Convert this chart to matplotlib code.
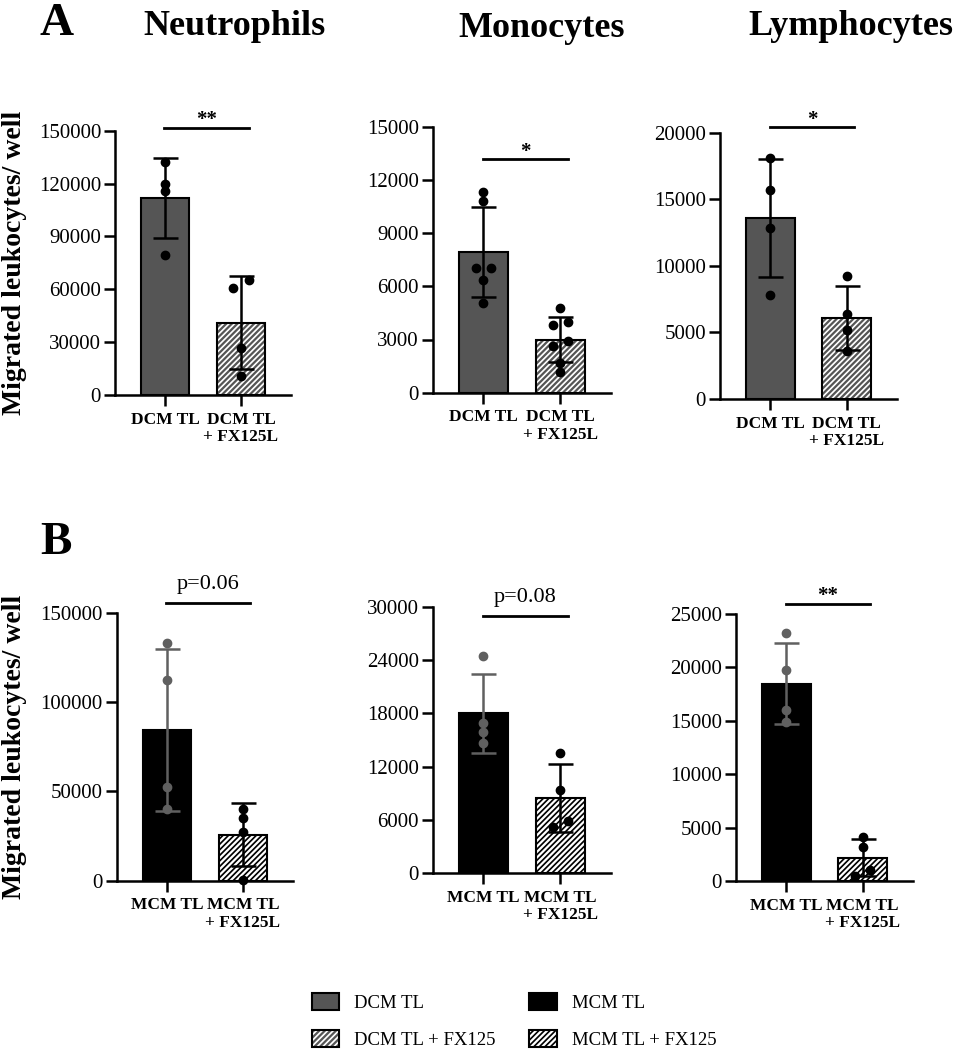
import matplotlib
matplotlib.use("Agg")
import matplotlib.pyplot as plt
import matplotlib.patches as mpatches
from matplotlib.legend_handler import HandlerTuple
import numpy as np

plt.rcParams['font.family'] = ['Liberation Serif', 'DejaVu Serif']
plt.rcParams['hatch.linewidth'] = 1.6

# individual wells (cells / well)
# panel A: DCM TL vs DCM TL + FX125L
neut_dcm = [132500, 120000, 115500, 79200]
neut_dcm_fx = [65400, 61000, 26800, 11000]
mono_dcm = [11330, 10790, 7010, 7010, 6330, 5075]
mono_dcm_fx = [4760, 3990, 3820, 2900, 2630, 1690, 1170]
lymph_dcm = [18075, 15725, 12825, 7825]
lymph_dcm_fx = [9250, 6375, 5200, 3575]

# panel B: MCM TL vs MCM TL + FX125L
neut_mcm = [133200, 112300, 52600, 39900]
neut_mcm_fx = [39900, 35300, 27400, 300]
mono_mcm = [24490, 16875, 15940, 14625]
mono_mcm_fx = [13570, 9370, 5880, 5170]
lymph_mcm = [23190, 19760, 16010, 14860]
lymph_mcm_fx = [4090, 3210, 1030, 450]

cell_types = ['Neutrophils', 'Monocytes', 'Lymphocytes']
labels_A = ['DCM TL', 'DCM TL\n+ FX125L']
labels_B = ['MCM TL', 'MCM TL\n+ FX125L']
sig_A = ['**', '*', '*']
sig_B = ['p=0.06', 'p=0.08', '**']
ymax_A = [150000, 15000, 20000]
ystep_A = [30000, 3000, 5000]
ymax_B = [150000, 30000, 25000]
ystep_B = [50000, 6000, 5000]

DCM_COL = '#555555'
MCM_COL = '#000000'
GREY = '#606060'
HATCH = '//////'

W, H = 957, 1050
fig = plt.figure(figsize=(W / 100, H / 100), dpi=100)


def add_ax(l, t, r, b):
    return fig.add_axes([l / W, 1 - b / H, (r - l) / W, (b - t) / H])


def spread(vals, ymax):
    # push overlapping dots sideways, like the prism scatter
    vals = np.asarray(vals, float)
    order = np.argsort(vals)
    offs = np.zeros(len(vals))
    groups, cur = [], [order[0]]
    for i in order[1:]:
        if vals[i] - vals[cur[-1]] < 0.03 * ymax:
            cur.append(i)
        else:
            groups.append(cur)
            cur = [i]
    groups.append(cur)
    for g in groups:
        n = len(g)
        for k, i in enumerate(g):
            offs[i] = (k - (n - 1) / 2) * 0.2
    return offs


def panel(ax, groups, ymax, ystep, xlabels, sig, sig_y, solid_col, hatch_col, solid_err):
    for x, (vals, kind) in enumerate(groups):
        m = np.mean(vals)
        sd = np.std(vals, ddof=1)
        if kind == 'solid':
            ax.bar(x, m, 0.64, color=solid_col, edgecolor='black', lw=1.5, zorder=2)
            c = solid_err
        else:
            face = 'white' if hatch_col != 'white' else 'black'
            ax.bar(x, m, 0.64, color=face, edgecolor=hatch_col, hatch=HATCH, lw=0, zorder=2)
            ax.bar(x, m, 0.64, fill=False, edgecolor='black', lw=1.5, zorder=2)
            c = 'black'
        ax.errorbar(x, m, yerr=sd, fmt='none', ecolor=c, elinewidth=1.8,
                    capsize=9, capthick=1.8, zorder=3)
        ax.plot(x + spread(vals, ymax), vals, 'o', color=c, ms=6, zorder=4, clip_on=False)

    ax.set_xlim(-0.66, 1.66)
    ax.set_ylim(0, ymax)
    ax.set_yticks(np.arange(0, ymax + 1, ystep))
    ax.set_xticks([0, 1])
    ax.set_xticklabels(xlabels, fontsize=12.5, fontweight='bold', linespacing=1.1)
    ax.tick_params(axis='y', labelsize=15, pad=2)
    ax.tick_params(width=1.8, length=8, direction='out')
    ax.tick_params(axis='x', pad=4)
    for s in ['top', 'right']:
        ax.spines[s].set_visible(False)
    for s in ['left', 'bottom']:
        ax.spines[s].set_linewidth(1.8)

    # significance bar
    tr = ax.get_xaxis_transform()
    ax.plot([-0.01, 1.1], [sig_y, sig_y], color='black', lw=2, transform=tr, clip_on=False)
    if sig.startswith('p'):
        ax.annotate(sig, xy=(0.545, sig_y), xycoords=tr, xytext=(0, 10),
                    textcoords='offset points', ha='center', va='baseline', fontsize=16)
    else:
        ax.annotate(sig, xy=(0.545, sig_y), xycoords=tr, xytext=(0, 2),
                    textcoords='offset points', ha='center', va='baseline',
                    fontsize=15, fontweight='bold')


rects_A = [(115, 130.7, 291, 395), (432.7, 126.7, 611, 392.7), (720, 132.7, 897, 399)]
rects_B = [(116.7, 612.7, 293, 880.7), (432.7, 606.7, 611, 873.3), (736, 614, 913, 881)]
sigy_A = [1.011, 0.877, 1.02]
sigy_B = [1.035, 0.965, 1.039]

data_A = [(neut_dcm, neut_dcm_fx), (mono_dcm, mono_dcm_fx), (lymph_dcm, lymph_dcm_fx)]
data_B = [(neut_mcm, neut_mcm_fx), (mono_mcm, mono_mcm_fx), (lymph_mcm, lymph_mcm_fx)]

for i in range(3):
    ax = add_ax(*rects_A[i])
    a, b = data_A[i]
    panel(ax, [(a, 'solid'), (b, 'hatch')], ymax_A[i], ystep_A[i], labels_A,
          sig_A[i], sigy_A[i], DCM_COL, DCM_COL, 'black')
    ax = add_ax(*rects_B[i])
    a, b = data_B[i]
    panel(ax, [(a, 'solid'), (b, 'hatch')], ymax_B[i], ystep_B[i], labels_B,
          sig_B[i], sigy_B[i], MCM_COL, 'white', GREY)

# titles and panel letters
title_pos = [(234, 35), (542, 37), (851, 35)]
for name, (x, y) in zip(cell_types, title_pos):
    fig.text(x / W, 1 - y / H, name, ha='center', va='baseline', fontsize=26, fontweight='bold')
fig.text(39 / W, 1 - 35 / H, 'A', ha='left', va='baseline', fontsize=34, fontweight='bold')
fig.text(40 / W, 1 - 554 / H, 'B', ha='left', va='baseline', fontsize=34, fontweight='bold')

for yc in [263, 747]:
    fig.text(15 / W, 1 - yc / H, 'Migrated leukocytes/ well', rotation=90,
             ha='center', va='center', fontsize=20, fontweight='bold')

# legend
h_dcm = mpatches.Patch(facecolor=DCM_COL, edgecolor='black', lw=1.5)
h_dcm_fx = (mpatches.Patch(facecolor='white', edgecolor=DCM_COL, hatch=HATCH, lw=0),
            mpatches.Patch(fill=False, edgecolor='black', lw=1.5))
h_mcm = mpatches.Patch(facecolor=MCM_COL, edgecolor='black', lw=1.5)
h_mcm_fx = (mpatches.Patch(facecolor='black', edgecolor='white', hatch=HATCH, lw=0),
            mpatches.Patch(fill=False, edgecolor='black', lw=1.5))
fig.legend([h_dcm, h_dcm_fx, h_mcm, h_mcm_fx],
           ['DCM TL', 'DCM TL + FX125', 'MCM TL', 'MCM TL + FX125'],
           handler_map={tuple: HandlerTuple(ndivide=1, pad=0)},
           ncol=2, loc='center', bbox_to_anchor=(514 / W, 1 - 1021 / H),
           frameon=False, fontsize=13.5, handlelength=1.45, handleheight=1.0,
           labelspacing=1.0, columnspacing=1.8, handletextpad=0.8)

fig.savefig('out.png', dpi=100)
